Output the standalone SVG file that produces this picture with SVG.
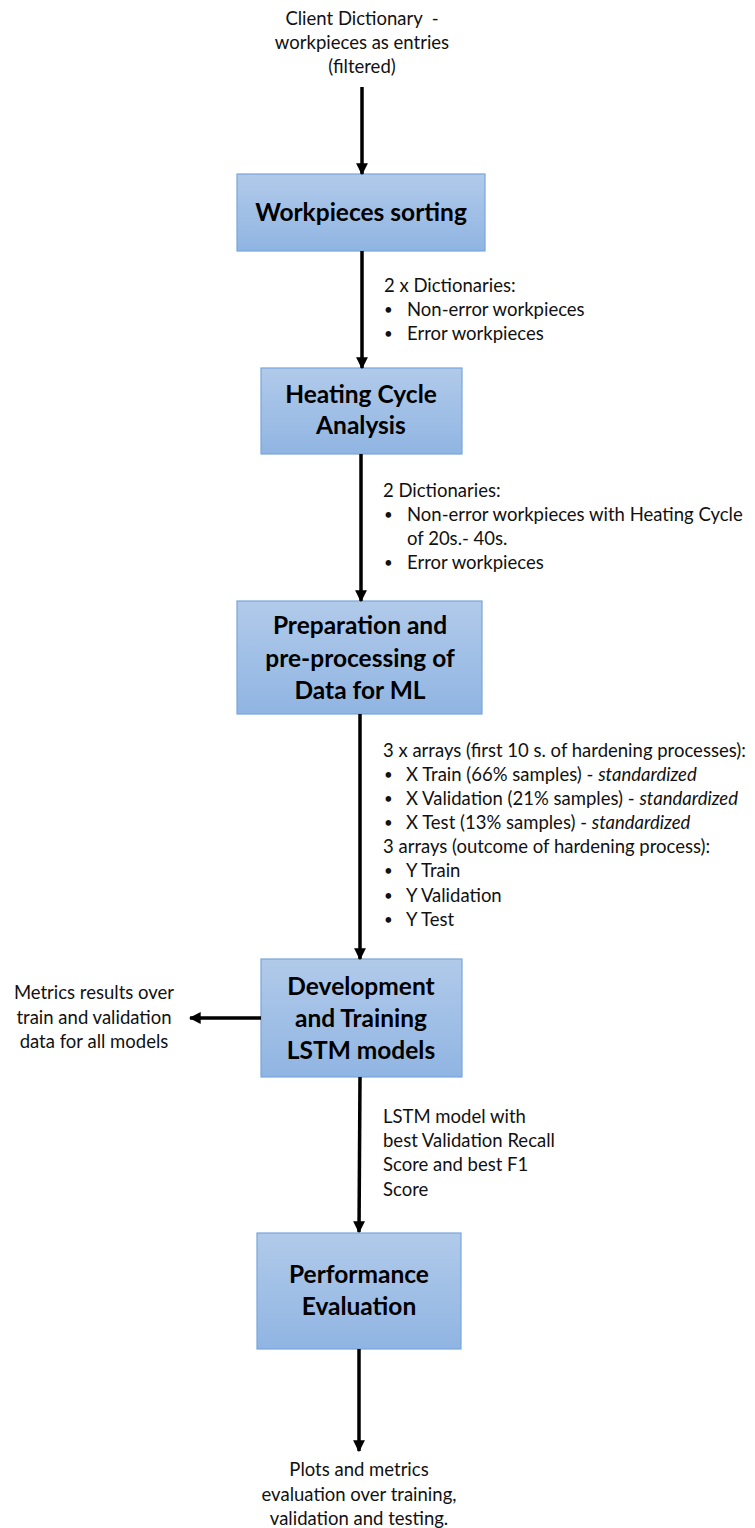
<svg xmlns="http://www.w3.org/2000/svg" width="755" height="1528" viewBox="0 0 755 1528">
  <defs>
    <linearGradient id="boxFill" x1="0" y1="0" x2="0" y2="1">
      <stop offset="0" stop-color="#B1CAEA"/>
      <stop offset="1" stop-color="#90B5E2"/>
    </linearGradient>
    <marker id="arrowHead" viewBox="0 0 10 10" refX="9" refY="5" markerWidth="3.4" markerHeight="3.4" orient="auto" markerUnits="strokeWidth">
      <path d="M0,0 L10,5 L0,10 Z" fill="#000"/>
    </marker>
  </defs>
  <style>
    .box { fill: url(#boxFill); stroke: #78A6DD; stroke-width: 1.2; }
    .title { font-family: Lato, "Liberation Sans", sans-serif; font-weight: bold; font-size: 24.5px; fill: #000; text-anchor: middle; }
    .note { font-family: Lato, "Liberation Sans", sans-serif; font-size: 18.5px; fill: #111; white-space: pre; }
    .mid { text-anchor: middle; }
    .dot { font-size: 15px; }
    .conn { stroke: #000; stroke-width: 3.5; fill: none; marker-end: url(#arrowHead); }
  </style>

  <!-- input description -->
  <g id="input">
    <text class="note mid" x="362" y="25">Client Dictionary  -</text>
    <text class="note mid" x="362" y="49">workpieces as entries</text>
    <text class="note mid" x="362" y="73">(filtered)</text>
  </g>

  <!-- process steps -->
  <g id="sorting">
    <rect class="box" x="237" y="174" width="248" height="77"/>
    <text class="title" x="361" y="221">Workpieces sorting</text>
  </g>

  <g id="heating">
    <rect class="box" x="261" y="368" width="201" height="86"/>
    <text class="title" x="361" y="403">Heating Cycle</text>
    <text class="title" x="361" y="434">Analysis</text>
  </g>

  <g id="preparation">
    <rect class="box" x="237" y="601" width="245" height="113"/>
    <text class="title" x="360" y="634">Preparation and</text>
    <text class="title" x="360" y="667">pre-processing of</text>
    <text class="title" x="360" y="699">Data for ML</text>
  </g>

  <g id="training">
    <rect class="box" x="261" y="959" width="201" height="118"/>
    <text class="title" x="361" y="995">Development</text>
    <text class="title" x="361" y="1027">and Training</text>
    <text class="title" x="361" y="1059">LSTM models</text>
  </g>

  <g id="evaluation">
    <rect class="box" x="257" y="1233" width="204" height="116"/>
    <text class="title" x="359" y="1283">Performance</text>
    <text class="title" x="359" y="1315">Evaluation</text>
  </g>

  <!-- side output of the training step -->
  <g id="metrics">
    <text class="note mid" x="94" y="999">Metrics results over</text>
    <text class="note mid" x="94" y="1024">train and validation</text>
    <text class="note mid" x="94" y="1048">data for all models</text>
  </g>

  <!-- final output -->
  <g id="output">
    <text class="note mid" x="359" y="1476">Plots and metrics</text>
    <text class="note mid" x="359" y="1501">evaluation over training,</text>
    <text class="note mid" x="359" y="1525">validation and testing.</text>
  </g>

  <!-- connectors -->
  <g id="connectors">
    <line class="conn" x1="362" y1="87" x2="362" y2="174"/>
    <line class="conn" x1="362" y1="251" x2="362" y2="368"/>
    <line class="conn" x1="361" y1="454" x2="361" y2="601"/>
    <line class="conn" x1="360" y1="714" x2="360" y2="959"/>
    <line class="conn" x1="360" y1="1077" x2="359" y2="1232"/>
    <line class="conn" x1="359" y1="1349" x2="359" y2="1451"/>
    <line class="conn" x1="261" y1="1018" x2="190" y2="1018"/>
  </g>

  <!-- connector labels -->
  <g id="label-sorted">
    <text class="note" x="384" y="292">2 x Dictionaries:</text>
    <text class="note dot" x="384" y="315">•</text>
    <text class="note" x="407" y="316">Non-error workpieces</text>
    <text class="note dot" x="384" y="339">•</text>
    <text class="note" x="407" y="340">Error workpieces</text>
  </g>

  <g id="label-heating">
    <text class="note" x="383" y="497">2 Dictionaries:</text>
    <text class="note dot" x="384" y="520">•</text>
    <text class="note" x="407" y="521">Non-error workpieces with Heating Cycle</text>
    <text class="note" x="407" y="545">of 20s.- 40s.</text>
    <text class="note dot" x="384" y="568">•</text>
    <text class="note" x="407" y="569">Error workpieces</text>
  </g>

  <g id="label-arrays">
    <text class="note" x="383" y="757">3 x arrays (first 10 s. of hardening processes):</text>
    <text class="note dot" x="384" y="780">•</text>
    <text class="note" x="406" y="781">X Train (66% samples) - <tspan font-style="italic">standardized</tspan></text>
    <text class="note dot" x="384" y="804">•</text>
    <text class="note" x="406" y="805">X Validation (21% samples) - <tspan font-style="italic">standardized</tspan></text>
    <text class="note dot" x="384" y="828">•</text>
    <text class="note" x="406" y="829">X Test (13% samples) - <tspan font-style="italic">standardized</tspan></text>
    <text class="note" x="383" y="853">3 arrays (outcome of hardening process):</text>
    <text class="note dot" x="384" y="876">•</text>
    <text class="note" x="406" y="877">Y Train</text>
    <text class="note dot" x="384" y="901">•</text>
    <text class="note" x="406" y="902">Y Validation</text>
    <text class="note dot" x="384" y="925">•</text>
    <text class="note" x="406" y="926">Y Test</text>
  </g>

  <g id="label-model">
    <text class="note" x="383" y="1123">LSTM model with</text>
    <text class="note" x="383" y="1147">best Validation Recall</text>
    <text class="note" x="383" y="1171">Score and best F1</text>
    <text class="note" x="383" y="1196">Score</text>
  </g>
</svg>
